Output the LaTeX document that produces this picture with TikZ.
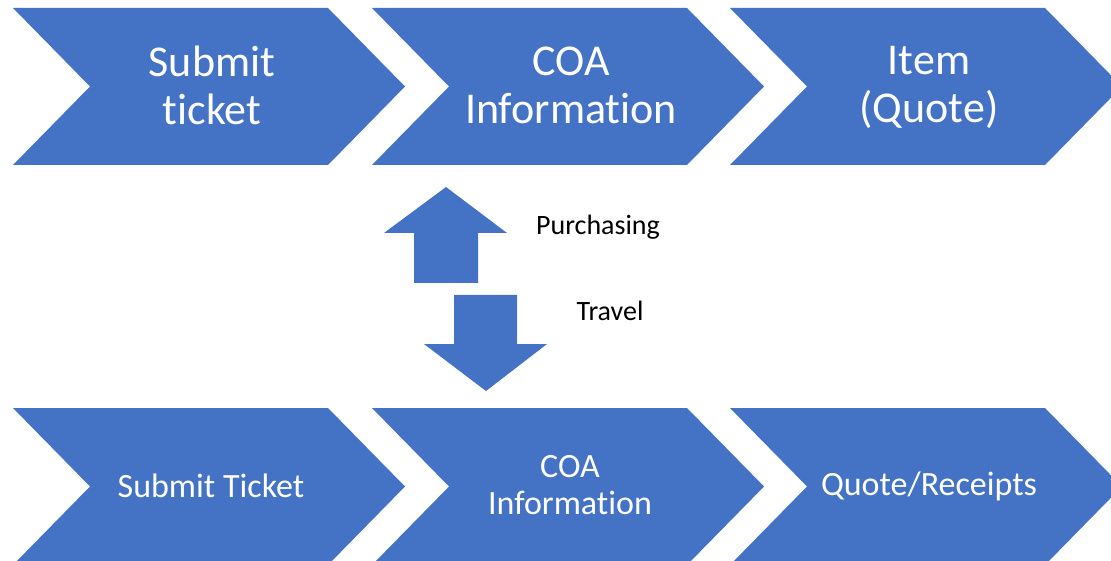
\documentclass[tikz,border=0pt]{standalone}
\usepackage{fontspec}
\setmainfont{Carlito}[Ligatures=NoCommon]
\definecolor{chevblue}{HTML}{4472C4}

\tikzset{
	bigtext/.style={text=white, align=center, font=\fontsize{44}{48}\selectfont},
	smalltext/.style={text=white, align=center, font=\fontsize{34}{37}\selectfont},
	labeltext/.style={anchor=base, font=\fontsize{28}{34}\selectfont}
}

\begin{document}
\begin{tikzpicture}[x=1pt,y=-1pt]

	\useasboundingbox (0,0) rectangle (1111,561);
	\clip (0,0) rectangle (1111,561);

	% draw chevrons, top and bottom row
	\foreach \x in {13,372,730}
	{
		\foreach \y in {8,408}
		{
			\fill[chevblue] (\x,\y) -- ++(315,0) -- ++(77,78.5) -- ++(-77,78.5) -- ++(-315,0) -- ++(77,-78.5) -- cycle;
		}
	}

	% draw top row texts
	\node[bigtext] (t_0) at (212,85.5) {Submit\\ticket};
	\node[bigtext] (t_1) at (571,85.5) {COA\\Information};
	\node[bigtext] (t_2) at (929,87.5) {Item\\(Quote)};

	% draw bottom row texts
	\node[smalltext] (b_0) at (211,485.5) {Submit Ticket};
	\node[smalltext] (b_1) at (570,485.5) {COA\\Information};
	\node[smalltext] (b_2) at (929,486.5) {Quote/Receipts};

	% draw up and down arrows
	\fill[chevblue] (446,187) -- (507,233) -- (478,233) -- (478,283) -- (414,283) -- (414,233) -- (384,233) -- cycle;
	\fill[chevblue] (454,295) -- (517,295) -- (517,344) -- (547,344) -- (486,391) -- (424,344) -- (454,344) -- cycle;

	% draw arrow labels
	\node[labeltext] (purch) at (598,235) {Purchasing};
	\node[labeltext] (travel) at (610,320.7) {Travel};

\end{tikzpicture}
\end{document}
